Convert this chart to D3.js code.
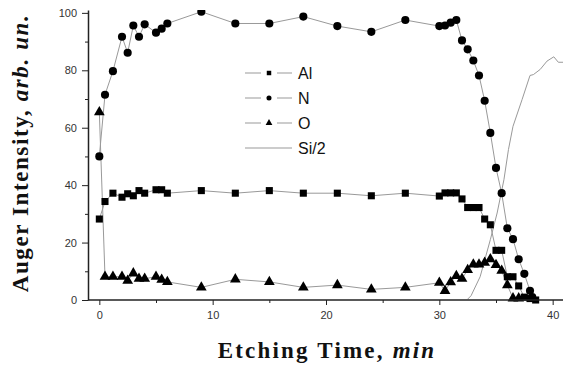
<!DOCTYPE html>
<html>
<head>
<meta charset="utf-8">
<script src="https://cdn.jsdelivr.net/npm/d3@7/dist/d3.min.js"></script>
<style>
  body { margin: 0; background: #fff; }
  svg { display: block; }
</style>
</head>
<body>
<div id="chart-container"></div>
<script>
// Etching time (min) and intensities
const alTime = [0, 0.5, 1.2, 2, 2.5, 3, 3.5, 4, 5, 5.5, 6, 9, 12, 15, 18, 21, 24, 27, 30, 30.5, 31, 31.5, 32, 32.5, 33, 33.5, 34, 34.5, 35, 35.5, 36, 36.5, 37, 37.5, 38, 38.5];
const alVal  = [28.2, 34.3, 37.2, 35.8, 37, 36.3, 38.1, 37.2, 38.4, 38.4, 37.2, 38.1, 37.2, 38.1, 37.2, 37.2, 36.3, 37.2, 36.2, 37.3, 37.3, 37.3, 35.2, 32.2, 32.2, 32.2, 28.2, 26.2, 17.3, 17.3, 8.1, 8.1, 4.9, 1, 0.5, 0];

const nTime = [0, 0.5, 1.2, 2, 2.5, 3, 3.5, 4, 5, 5.5, 6, 9, 12, 15, 18, 21, 24, 27, 30, 30.5, 31, 31.5, 32, 32.5, 33, 33.5, 34, 34.5, 35, 35.5, 36, 36.5, 37, 37.5, 38, 38.2];
const nVal  = [50, 71.5, 79.7, 91.7, 86.1, 95.6, 91.7, 96, 93.1, 94.5, 96.3, 100.4, 96.3, 96.3, 98.7, 95.4, 93.4, 97.5, 95.4, 95.6, 96.6, 97.5, 90.4, 87.3, 83.4, 78.2, 69.4, 58.2, 46, 37.2, 25, 21.2, 14.2, 9.1, 3.2, 1];

const oTime = [0, 0.5, 1.2, 2, 2.5, 3, 3.5, 4, 5, 5.5, 6, 9, 12, 15, 18, 21, 24, 27, 30, 30.5, 31, 31.5, 32, 32.5, 33, 33.5, 34, 34.5, 35, 35.5, 36, 36.5, 37];
const oVal  = [65.4, 8.1, 8.1, 8.1, 6.7, 9.3, 7.4, 7.4, 8.1, 7.1, 6.3, 4.4, 7.2, 6.3, 4.4, 5.2, 3.7, 4.4, 6, 3.2, 6.2, 8.4, 7.4, 10.5, 12.4, 12.4, 13, 14.2, 12.2, 10.2, 5.2, 0.6, 0.6];

const siTime = [32.5, 32.8, 33.6, 34.5, 35.1, 35.7, 36.1, 36.5, 37.3, 38, 38.3, 38.9, 39.5, 40.1, 40.5, 41];
const siVal  = [0.3, 1.5, 8.1, 21, 30.3, 41.9, 52.4, 60.5, 69.8, 78.2, 78.5, 80.3, 83.2, 84.7, 82.8, 82.8];

const xTicks = [0, 10, 20, 30, 40];
const xMinor = [5, 15, 25, 35];
const yTicks = [0, 20, 40, 60, 80, 100];
const yMinor = [10, 30, 50, 70, 90];
const legendNames = ["Al", "N", "O", "Si/2"];

const W = 563, H = 365;
const plot = { left: 88, top: 10, right: 564, bottom: 300 };

const x = d3.scaleLinear().domain([-1, 41]).range([plot.left, plot.right]);
const y = d3.scaleLinear().domain([0, 101]).range([plot.bottom, plot.top]);

const svg = d3.select("#chart-container")
  .append("svg")
  .attr("width", W)
  .attr("height", H);

svg.append("defs").append("clipPath")
  .attr("id", "clip")
  .append("rect")
  .attr("x", plot.left)
  .attr("y", plot.top)
  .attr("width", W - plot.left)
  .attr("height", plot.bottom - plot.top + 6);

const lineColor = "#999";
const series = [
  { t: alTime, v: alVal, sym: d3.symbolSquare, size: 50 },
  { t: nTime, v: nVal, sym: d3.symbolCircle, size: 52 },
  { t: oTime, v: oVal, sym: d3.symbolTriangle, size: 50 }
];

const g = svg.append("g").attr("clip-path", "url(#clip)");

const line = d3.line()
  .x(d => x(d[0]))
  .y(d => y(d[1]));

// Si/2 thin line
g.append("path")
  .datum(siTime.map((t, i) => [t, siVal[i]]))
  .attr("fill", "none")
  .attr("stroke", lineColor)
  .attr("stroke-width", 1)
  .attr("d", line);

series.forEach(s => {
  const pts = s.t.map((t, i) => [t, s.v[i]]);
  g.append("path")
    .datum(pts)
    .attr("fill", "none")
    .attr("stroke", lineColor)
    .attr("stroke-width", 1)
    .attr("d", line);
});

series.forEach(s => {
  const pts = s.t.map((t, i) => [t, s.v[i]]);
  g.selectAll(null)
    .data(pts)
    .enter()
    .append("path")
    .attr("transform", d => `translate(${x(d[0])},${y(d[1])})`)
    .attr("d", d3.symbol().type(s.sym).size(s.size))
    .attr("fill", "#000");
});

// axes
const axisColor = "#222";
const xAxis = svg.append("g")
  .attr("transform", `translate(0,${plot.bottom})`)
  .call(d3.axisBottom(x).tickValues(xTicks).tickSize(5).tickPadding(6).tickSizeOuter(0));
xAxis.select(".domain").attr("d", `M${plot.left},0H${W}`);

svg.append("g")
  .attr("transform", `translate(0,${plot.bottom})`)
  .call(d3.axisBottom(x).tickValues(xMinor).tickSize(3).tickFormat(""))
  .select(".domain").remove();

const yAxis = svg.append("g")
  .attr("transform", `translate(${plot.left},0)`)
  .call(d3.axisLeft(y).tickValues(yTicks).tickSize(6).tickPadding(5).tickSizeOuter(0));

svg.append("g")
  .attr("transform", `translate(${plot.left},0)`)
  .call(d3.axisLeft(y).tickValues(yMinor).tickSize(3).tickFormat(""))
  .select(".domain").remove();

svg.selectAll(".domain").attr("stroke", axisColor).attr("stroke-width", 1.5);
svg.selectAll(".tick line").attr("stroke", axisColor).attr("stroke-width", 1);
svg.selectAll(".tick text")
  .attr("font-family", "Liberation Sans, Arial, sans-serif")
  .attr("font-size", 11)
  .attr("fill", "#333");

// axis titles
const xt = svg.append("text")
  .attr("x", 327)
  .attr("y", 358)
  .attr("text-anchor", "middle")
  .attr("font-family", "Liberation Serif, Times New Roman, serif")
  .attr("font-weight", "bold")
  .attr("font-size", 23)
  .attr("letter-spacing", 2.2)
  .attr("fill", "#111");
xt.append("tspan").text("Etching Time, ");
xt.append("tspan").attr("font-style", "italic").text("min");

const yt = svg.append("text")
  .attr("transform", "translate(28,153) rotate(-90)")
  .attr("text-anchor", "middle")
  .attr("font-family", "Liberation Serif, Times New Roman, serif")
  .attr("font-weight", "bold")
  .attr("font-size", 23)
  .attr("letter-spacing", 1.6)
  .attr("fill", "#111");
yt.append("tspan").text("Auger Intensity, ");
yt.append("tspan").attr("font-style", "italic").text("arb. un.");

// legend
const legendSyms = [d3.symbolSquare, d3.symbolCircle, d3.symbolTriangle, null];
const legend = svg.append("g").attr("transform", "translate(245,73)");
legendNames.forEach((name, i) => {
  const row = legend.append("g").attr("transform", `translate(0,${i * 25})`);
  if (legendSyms[i]) {
    row.append("line").attr("x1", 0).attr("x2", 16).attr("stroke", lineColor);
    row.append("line").attr("x1", 32).attr("x2", 47).attr("stroke", lineColor);
    row.append("path")
      .attr("transform", "translate(24,0)")
      .attr("d", d3.symbol().type(legendSyms[i]).size(20))
      .attr("fill", "#000");
  } else {
    row.append("line").attr("x1", 0).attr("x2", 47).attr("stroke", lineColor);
  }
  row.append("text")
    .attr("x", 53)
    .attr("y", 6)
    .attr("font-family", "Liberation Sans, Arial, sans-serif")
    .attr("font-size", 16)
    .attr("fill", "#111")
    .text(name);
});
</script>
</body>
</html>
